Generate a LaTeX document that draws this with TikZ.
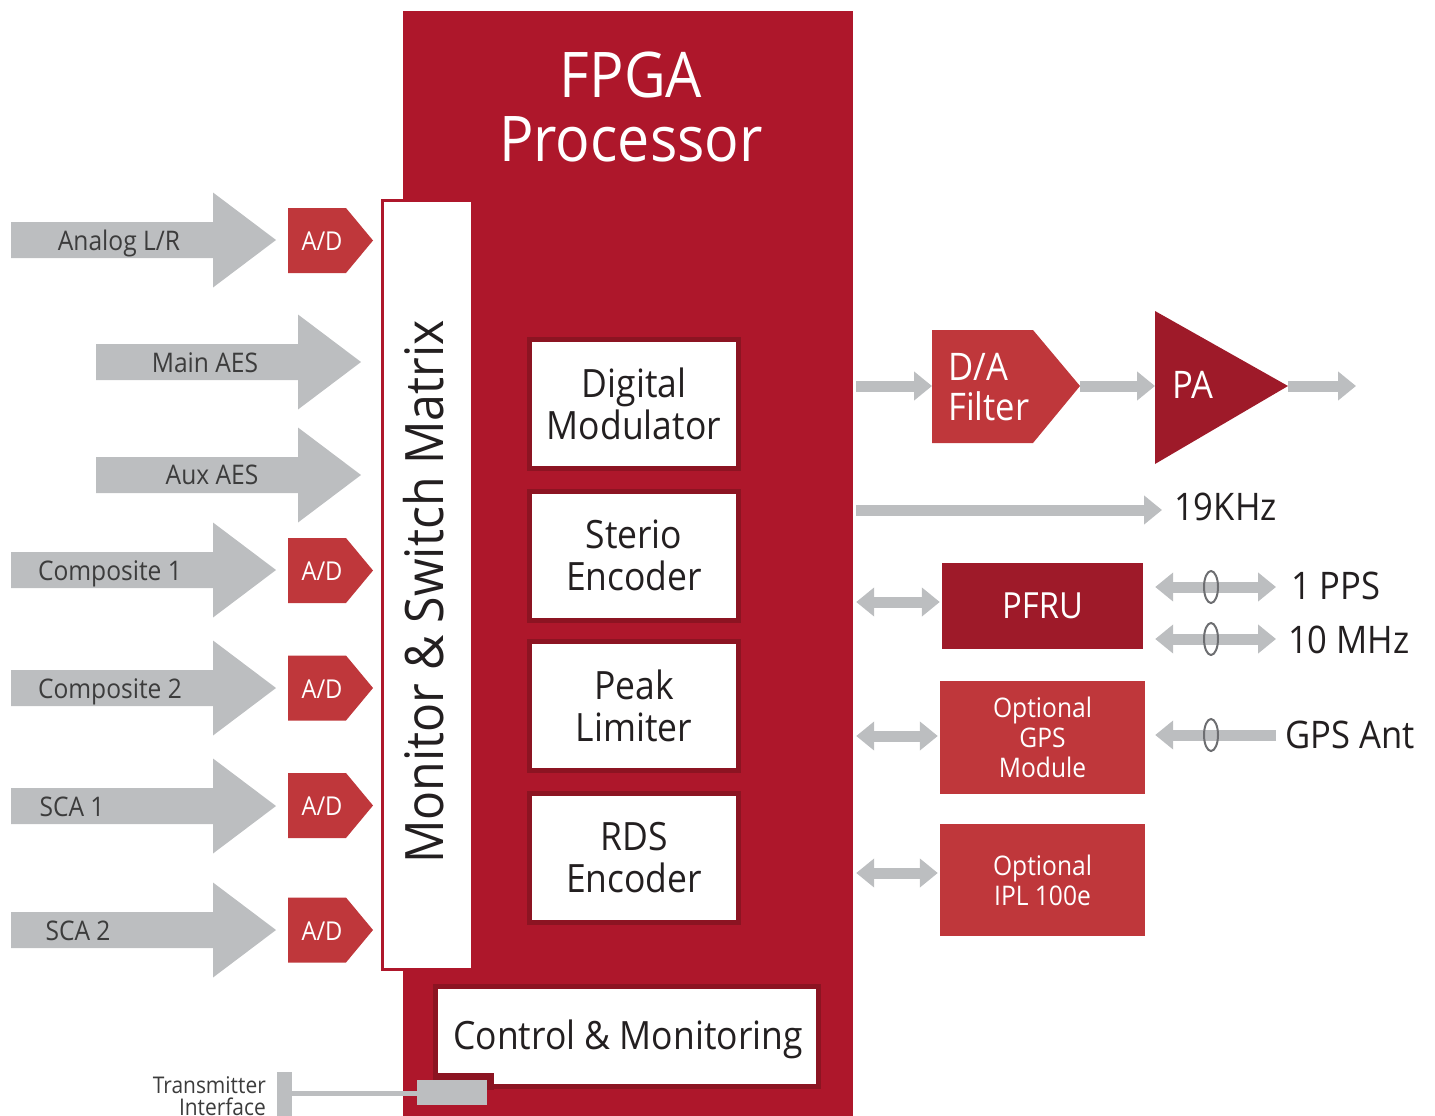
\documentclass[tikz,border=0pt]{standalone}
\usepackage{fontspec}
\setmainfont{Open Sans}[FakeStretch=0.91]
\usetikzlibrary{arrows.meta}
\definecolor{fpgared}{HTML}{AE172B}
\definecolor{boxdark}{HTML}{8C1422}
\definecolor{adred}{HTML}{BF373B}
\definecolor{pared}{HTML}{9E1A29}
\definecolor{gry}{HTML}{BCBEC0}
\definecolor{ringgry}{HTML}{6D6E71}
\definecolor{lbl}{HTML}{3C3C3C}
\definecolor{blk}{HTML}{231F20}
\newcommand\fs[2]{\fontsize{#1}{#2}\selectfont}
\newcommand\bigarrow[2]{\fill[gry,shift={(#1,#2)}] (0,-18) -- (202,-18) -- (202,-47.5) -- (265,0) -- (202,47.5) -- (202,18) -- (0,18) -- cycle;}
\newcommand\adshape[1]{\fill[adred,shift={(288,#1)}] (0,-32.5) -- (58,-32.5) -- (85,0) -- (58,32.5) -- (0,32.5) -- cycle;}
\tikzset{
  inlabel/.style={text=lbl,font=\fs{27}{30},inner sep=0pt,anchor=base},
  adlabel/.style={text=white,font=\fs{26}{30},inner sep=0pt,anchor=base},
  innerbox/.style={draw=boxdark,line width=5pt,fill=white,minimum width=209pt,minimum height=129pt,align=center,font=\fs{39}{42},text=blk,inner sep=0pt},
  redbox/.style={fill=adred,minimum width=205pt,align=center,text=white,font=\fs{27}{30},inner sep=0pt},
  thinarr/.style={draw=gry,line width=11pt,-{Triangle[length=18pt,width=28pt]}},
  dblarr/.style={draw=gry,line width=11pt,{Triangle[length=18pt,width=28pt]}-{Triangle[length=18pt,width=28pt]}},
  ring/.style={draw=ringgry,line width=2pt},
  rlabel/.style={text=blk,font=\fs{38}{42},inner sep=0pt,anchor=west},
}
\begin{document}
\begin{tikzpicture}[x=1pt,y=-1pt]
\useasboundingbox (0,0) rectangle (1435,1116);
% FPGA block
\node[fill=fpgared,minimum width=450pt,minimum height=1105pt,inner sep=0pt] (fpga) at (628,563.5) {};
\node[text=white,font=\fs{63}{64},align=center,inner sep=0pt] (title) at (631,107) {FPGA\\Processor};
% Monitor & Switch Matrix
\node[draw=fpgared,line width=3pt,fill=white,minimum width=90pt,minimum height=769pt,inner sep=0pt] (matrix) at (427.5,585) {};
\node[rotate=90,inner sep=0pt,font=\fs{53}{60},text=blk] (matrixtxt) at (424,592) {Monitor \& Switch Matrix};
% inner blocks
\node[innerbox] (dmod) at (634,404) {Digital\\Modulator};
\node[innerbox] (ster) at (634,555.5) {Sterio\\Encoder};
\node[innerbox] (peak) at (634,706) {Peak\\Limiter};
\node[innerbox] (rds) at (634,858) {RDS\\Encoder};
% control & monitoring
\node[draw=boxdark,line width=5pt,fill=white,minimum width=383pt,minimum height=100pt,inner sep=0pt] (ctrl) at (627,1036.5) {};
\node[text=blk,font=\fs{39}{42},inner sep=0pt,anchor=base] (ctrltxt) at (628,1049) {Control \& Monitoring};
\fill[boxdark] (433,1073) rectangle (494,1090);
\node[fill=gry,minimum width=70pt,minimum height=25pt,inner sep=0pt] (tbox) at (452,1092.5) {};
\node[fill=gry,minimum width=15pt,minimum height=44pt,inner sep=0pt] (tbar) at (284.5,1094) {};
\draw[gry,line width=5pt] (tbar.east |- 0,1093) -- (tbox.west |- 0,1093);
\node[text=lbl,font=\fs{23}{22},align=right,inner sep=0pt,anchor=north east] (tlabel) at (266,1076) {Transmitter\\Interface};
% input arrows
\bigarrow{11}{240}
\node[inlabel] (in1) at (119,250) {Analog L/R};
\bigarrow{96}{362}
\node[inlabel] (in2) at (205,372) {Main AES};
\bigarrow{96}{475}
\node[inlabel] (in3) at (212,484) {Aux AES};
\bigarrow{11}{570}
\node[inlabel] (in4) at (110,580) {Composite 1};
\bigarrow{11}{688}
\node[inlabel] (in5) at (110,698) {Composite 2};
\bigarrow{11}{806}
\node[inlabel] (in6) at (72,816) {SCA 1};
\bigarrow{11}{930}
\node[inlabel] (in7) at (78,940) {SCA 2};
% A/D converters
\adshape{240.5}\node[adlabel] (ad1) at (322,250) {A/D};
\adshape{570.5}\node[adlabel] (ad2) at (322,580) {A/D};
\adshape{688}\node[adlabel] (ad3) at (322,698) {A/D};
\adshape{805.5}\node[adlabel] (ad4) at (322,815) {A/D};
\adshape{930}\node[adlabel] (ad5) at (322,940) {A/D};
% D/A filter
\fill[adred] (932,330) -- (1033,330) -- (1080,386) -- (1033,443) -- (932,443) -- cycle;
\coordinate (daw) at (932,386);
\coordinate (dae) at (1080,386);
\node[text=white,font=\fs{38}{40},inner sep=0pt,anchor=base west] (datxt) at (948,380) {D/A};
\node[text=white,font=\fs{38}{40},inner sep=0pt,anchor=base west] (datxt2) at (948,420) {Filter};
% PA
\fill[pared] (1155,311) -- (1288,386) -- (1155,464) -- cycle;
\coordinate (paw) at (1155,386);
\coordinate (pae) at (1288,386);
\coordinate (paout) at (1356,386);
\node[text=white,font=\fs{38}{40},inner sep=0pt,anchor=base west] (patxt) at (1172,398) {PA};
\draw[thinarr] ([xshift=3pt]fpga.east |- daw) -- (daw);
\draw[thinarr] (dae) -- (paw);
\draw[thinarr] (pae) -- (paout);
% 19 KHz
\node[rlabel] (k19) at (1174,507) {19KHz};
\draw[thinarr] ([xshift=3pt]fpga.east |- 0,510) -- ([xshift=-12pt]k19.west |- 0,510);
% PFRU
\node[fill=pared,minimum width=201pt,minimum height=86pt,inner sep=0pt,text=white,font=\fs{36}{40}] (pfru) at (1042.5,606) {PFRU};
\draw[dblarr] ([xshift=3pt]fpga.east |- 0,602) -- ([xshift=-2pt]pfru.west |- 0,602);
\node[rlabel] (pps) at (1291,586) {1 PPS};
\node[rlabel] (mhz) at (1288,640) {10 MHz};
\draw[dblarr] ([xshift=12pt]pfru.east |- 0,587) -- ([xshift=-15pt]pps.west |- 0,587);
\draw[dblarr] ([xshift=12pt]pfru.east |- 0,639) -- ([xshift=-12pt]mhz.west |- 0,639);
\draw[ring] (1211,587) ellipse [x radius=7,y radius=16];
\draw[ring] (1211,639) ellipse [x radius=7,y radius=16];
% GPS
\node[redbox,minimum height=113pt] (gps) at (1042.5,737.5) {Optional\\GPS\\Module};
\draw[dblarr] ([xshift=3pt]fpga.east |- 0,736) -- ([xshift=-2pt]gps.west |- 0,736);
\node[rlabel] (ant) at (1285,735) {GPS Ant};
\draw[thinarr] ([xshift=-9pt]ant.west |- 0,735) -- ([xshift=10pt]gps.east |- 0,735);
\draw[ring] (1211,735) ellipse [x radius=7,y radius=16];
% IPL
\node[redbox,minimum height=112pt] (ipl) at (1042.5,880) {Optional\\IPL 100e};
\draw[dblarr] ([xshift=3pt]fpga.east |- 0,873) -- ([xshift=-2pt]ipl.west |- 0,873);
\end{tikzpicture}
\end{document}
